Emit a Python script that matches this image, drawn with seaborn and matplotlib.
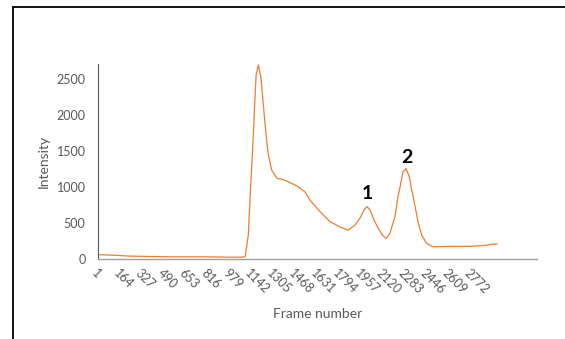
import matplotlib
matplotlib.use("Agg")
import matplotlib.pyplot as plt
import seaborn as sns
import pandas as pd
from matplotlib.lines import Line2D

# frame number vs intensity
frames = [1, 90, 239, 388, 537, 686, 834, 983, 1057, 1095, 1119, 1132, 1149,
          1164, 1177, 1194, 1214, 1231, 1249, 1268, 1293, 1331, 1392, 1467,
          1504, 1541, 1578, 1653, 1727, 1802, 1861, 1913, 1950, 1980, 2002,
          2025, 2054, 2084, 2121, 2147, 2173, 2210, 2233, 2248, 2270, 2293,
          2315, 2335, 2360, 2384, 2409, 2446, 2493, 2620, 2769, 2880, 2970]
intensity = [60, 55, 40, 35, 30, 30, 30, 25, 25, 30, 330, 845, 1440,
             2035, 2550, 2690, 2500, 2130, 1760, 1440, 1230, 1120, 1090, 1025,
             980, 930, 815, 655, 517, 443, 400, 470, 567, 680, 725,
             680, 540, 430, 320, 285, 360, 585, 870, 1000, 1210, 1250,
             1150, 955, 725, 495, 330, 215, 170, 175, 175, 190, 210]

tick_frames = list(range(1, 2773, 163))
peak_labels = ["1", "2"]
peak_pos = [(2002, 790), (2300, 1290)]

df = pd.DataFrame({"Frame number": frames, "Intensity": intensity})

sns.set_style("white")
plt.rcParams["font.family"] = ["Lato", "DejaVu Sans"]

fig = plt.figure(figsize=(5.65, 3.39), dpi=100)
ax = fig.add_axes([0.1735, 0.236, 0.777, 0.575])

sns.lineplot(data=df, x="Frame number", y="Intensity", color="#ED7D31",
             linewidth=0.9, ax=ax)

ax.set_xlim(1, 3267)
ax.set_ylim(0, 2700)
ax.set_xticks(tick_frames)
ax.set_xticklabels([str(t) for t in tick_frames], rotation=-45, ha="left",
                   va="top", rotation_mode="anchor")
ax.set_yticks([0, 500, 1000, 1500, 2000, 2500])
ax.tick_params(axis="both", length=0, labelsize=9, colors="#595959")
ax.tick_params(axis="y", pad=9)
ax.tick_params(axis="x", pad=6)

for s in ["top", "right"]:
    ax.spines[s].set_visible(False)
ax.spines["left"].set_color("#595959")
ax.spines["left"].set_linewidth(0.8)
ax.spines["bottom"].set_color("#A0A0A0")
ax.spines["bottom"].set_linewidth(1.0)

ax.set_xlabel("Frame number", fontsize=10, color="#595959")
ax.set_ylabel("Intensity", fontsize=10, color="#595959")
ax.xaxis.set_label_coords(0.5, -0.25)
ax.yaxis.set_label_coords(-0.11, 0.5)

for lab, (px, py) in zip(peak_labels, peak_pos):
    ax.text(px, py, lab, fontsize=14, fontweight="bold", color="black",
            ha="center", va="bottom")

# outer frame lines (left and top)
fig.add_artist(Line2D([13 / 565, 13 / 565], [0, 1 - 7 / 339],
                      color="black", linewidth=1.3))
fig.add_artist(Line2D([13 / 565, 1], [1 - 7 / 339, 1 - 7 / 339],
                      color="black", linewidth=1.3))

fig.savefig("out.png", dpi=100)
